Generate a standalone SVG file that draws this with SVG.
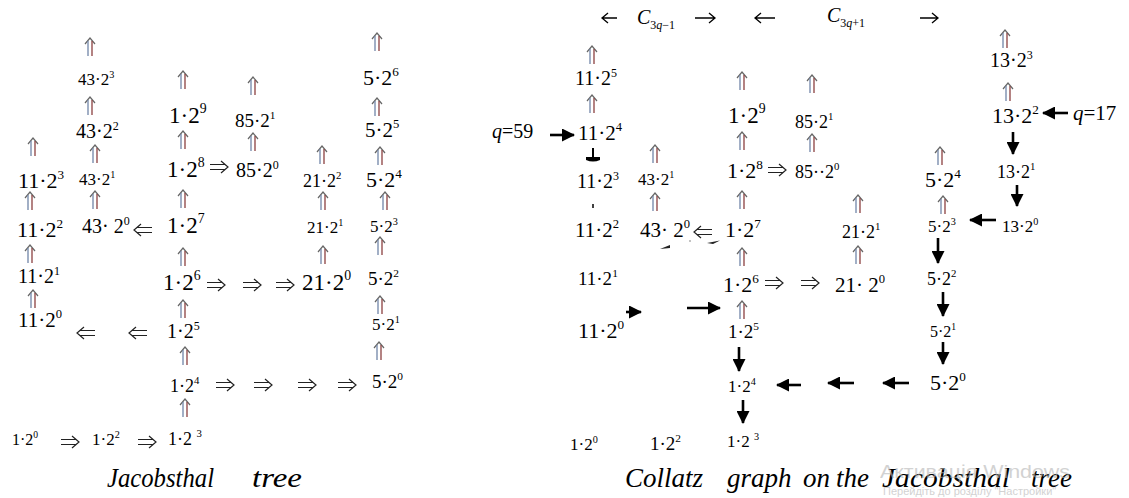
<svg xmlns="http://www.w3.org/2000/svg" xmlns:xlink="http://www.w3.org/1999/xlink" width="1129" height="498" viewBox="0 0 1129 498">
<style>
.n{font-family:"Liberation Serif","Times New Roman",serif;fill:#000}
.i{font-style:italic}
.sup{font-size:0.6em}
.ti{font-family:"Liberation Serif","Times New Roman",serif;font-style:italic;font-size:27px;fill:#000}
.blk{stroke:#000;stroke-width:2.6;fill:none}
.thin{stroke:#000;stroke-width:1.3;fill:none}
.wm{font-family:"Liberation Sans",Arial,sans-serif;fill:#b5b5b5;opacity:0.6}
</style>
<defs>
<g id="dup">
<path d="M-5,6 L0,0 L5,6" fill="none" stroke="#666" stroke-width="1.2"/>
<path d="M-2,3 V18" stroke="#7085a8" stroke-width="1.3"/>
<path d="M2,3 V18" stroke="#8b4040" stroke-width="1.3"/>
</g>
<g id="dright">
<path d="M0,-2.5 H15 M0,2.5 H15" stroke="#222" stroke-width="1.2" fill="none"/>
<path d="M11,-6 L18,0 L11,6" stroke="#222" stroke-width="1.2" fill="none"/>
</g>
<g id="dleft">
<path d="M3,-2.5 H18 M3,2.5 H18" stroke="#222" stroke-width="1.2" fill="none"/>
<path d="M7,-6 L0,0 L7,6" stroke="#222" stroke-width="1.2" fill="none"/>
</g>
<marker id="ah" markerUnits="userSpaceOnUse" markerWidth="13" markerHeight="13" viewBox="0 0 13 13" refX="12" refY="6.5" orient="auto">
<path d="M0,0 L13,6.5 L0,13 z" fill="#000"/>
</marker>
</defs>

<g id="connectors">
<!-- left panel double up arrows -->
<use xlink:href="#dup" x="90" y="38"/>
<use xlink:href="#dup" x="90" y="97"/>
<use xlink:href="#dup" x="95" y="145"/>
<use xlink:href="#dup" x="95" y="191"/>
<use xlink:href="#dup" x="33" y="138"/>
<use xlink:href="#dup" x="30" y="192"/>
<use xlink:href="#dup" x="30" y="245"/>
<use xlink:href="#dup" x="33" y="290"/>
<use xlink:href="#dup" x="183" y="71"/>
<use xlink:href="#dup" x="183" y="131"/>
<use xlink:href="#dup" x="183" y="190"/>
<use xlink:href="#dup" x="183" y="248"/>
<use xlink:href="#dup" x="183" y="300"/>
<use xlink:href="#dup" x="185" y="347"/>
<use xlink:href="#dup" x="185" y="399"/>
<use xlink:href="#dup" x="253" y="77"/>
<use xlink:href="#dup" x="253" y="133"/>
<use xlink:href="#dup" x="322" y="146"/>
<use xlink:href="#dup" x="323" y="192"/>
<use xlink:href="#dup" x="323" y="246"/>
<use xlink:href="#dup" x="377" y="33"/>
<use xlink:href="#dup" x="377" y="98"/>
<use xlink:href="#dup" x="380" y="147"/>
<use xlink:href="#dup" x="385" y="192"/>
<use xlink:href="#dup" x="380" y="237"/>
<use xlink:href="#dup" x="380" y="296"/>
<use xlink:href="#dup" x="379" y="342"/>
<!-- left panel double horizontal arrows -->
<use xlink:href="#dleft" x="77" y="333"/>
<use xlink:href="#dleft" x="129" y="333"/>
<use xlink:href="#dleft" x="134" y="230"/>
<use xlink:href="#dright" x="210" y="167"/>
<use xlink:href="#dright" x="207" y="285"/>
<use xlink:href="#dright" x="243" y="285"/>
<use xlink:href="#dright" x="276" y="285"/>
<use xlink:href="#dright" x="216" y="385"/>
<use xlink:href="#dright" x="254" y="385"/>
<use xlink:href="#dright" x="298" y="385"/>
<use xlink:href="#dright" x="338" y="385"/>
<use xlink:href="#dright" x="61" y="442"/>
<use xlink:href="#dright" x="138" y="442"/>

<!-- right panel double up arrows -->
<use xlink:href="#dup" x="592" y="46"/>
<use xlink:href="#dup" x="592" y="95"/>
<use xlink:href="#dup" x="655" y="145"/>
<use xlink:href="#dup" x="655" y="193"/>
<use xlink:href="#dup" x="742" y="72"/>
<use xlink:href="#dup" x="742" y="132"/>
<use xlink:href="#dup" x="742" y="191"/>
<use xlink:href="#dup" x="742" y="248"/>
<use xlink:href="#dup" x="742" y="301"/>
<use xlink:href="#dup" x="812" y="75"/>
<use xlink:href="#dup" x="812" y="134"/>
<use xlink:href="#dup" x="858" y="195"/>
<use xlink:href="#dup" x="858" y="246"/>
<use xlink:href="#dup" x="940" y="147"/>
<use xlink:href="#dup" x="943" y="196"/>
<use xlink:href="#dup" x="1005" y="30"/>
<use xlink:href="#dup" x="1008" y="83"/>
<use xlink:href="#dright" x="768" y="170"/>
<use xlink:href="#dleft" x="694" y="232"/>
<use xlink:href="#dright" x="765" y="283"/>
<use xlink:href="#dright" x="801" y="283"/>

<!-- top thin arrows -->
<path class="thin" d="M617,18 H603 M608,13 L602,18 L608,23"/>
<path class="thin" d="M695,18 H714 M709,13 L715,18 L709,23"/>
<path class="thin" d="M775,18 H756 M761,13 L755,18 L761,23"/>
<path class="thin" d="M920,18 H937 M932,13 L938,18 L932,23"/>

<!-- black Collatz arrows -->
<line class="blk" x1="550" y1="135" x2="574" y2="135" marker-end="url(#ah)"/>
<path d="M593,148 V157" stroke="#000" stroke-width="2"/>
<path d="M586,157 H600 V160 Q593,163 586,160 Z" fill="#000"/>
<path d="M593,204 V208" stroke="#000" stroke-width="1.5"/>
<line class="blk" x1="626" y1="312" x2="641" y2="312" marker-end="url(#ah)"/>
<line class="blk" x1="687" y1="308" x2="720" y2="308" marker-end="url(#ah)"/>
<path d="M660,249 L670,245 L670,248 Z" fill="#222"/>
<path d="M707,243 L720,240.5 L713,244 Z" fill="#222"/>
<circle cx="690" cy="241" r="0.8" fill="#777"/>
<line class="blk" x1="739" y1="347" x2="739" y2="371" marker-end="url(#ah)"/>
<line class="blk" x1="743" y1="400" x2="743" y2="423" marker-end="url(#ah)"/>
<line class="blk" x1="801" y1="385" x2="777" y2="385" marker-end="url(#ah)"/>
<line class="blk" x1="854" y1="383" x2="828" y2="383" marker-end="url(#ah)"/>
<line class="blk" x1="909" y1="383" x2="883" y2="383" marker-end="url(#ah)"/>
<line class="blk" x1="943" y1="342" x2="943" y2="364" marker-end="url(#ah)"/>
<line class="blk" x1="943" y1="292" x2="943" y2="316" marker-end="url(#ah)"/>
<line class="blk" x1="938" y1="238" x2="938" y2="263" marker-end="url(#ah)"/>
<line class="blk" x1="996" y1="220" x2="970" y2="220" marker-end="url(#ah)"/>
<line class="blk" x1="1017" y1="185" x2="1017" y2="206" marker-end="url(#ah)"/>
<line class="blk" x1="1013" y1="132" x2="1013" y2="154" marker-end="url(#ah)"/>
<line class="blk" x1="1068" y1="113" x2="1043" y2="113" marker-end="url(#ah)"/>
</g>

<!-- LEFT PANEL NODES -->
<g id="L-43-3"><text class="n" x="78" y="85" font-size="17">43·2<tspan class="sup" dy="-0.7em">3</tspan></text></g>
<g id="L-43-2"><text class="n" x="76" y="138" font-size="20">43·2<tspan class="sup" dy="-0.7em">2</tspan></text></g>
<g id="L-43-1"><text class="n" x="79" y="185" font-size="17">43·2<tspan class="sup" dy="-0.7em">1</tspan></text></g>
<g id="L-43-0"><text class="n" x="82" y="233" font-size="20">43· 2<tspan class="sup" dy="-0.7em">0</tspan></text></g>
<g id="L-11-3"><text class="n" x="18" y="188" font-size="22">11·2<tspan class="sup" dy="-0.7em">3</tspan></text></g>
<g id="L-11-2"><text class="n" x="17" y="237" font-size="22">11·2<tspan class="sup" dy="-0.7em">2</tspan></text></g>
<g id="L-11-1"><text class="n" x="18" y="283" font-size="20">11·2<tspan class="sup" dy="-0.7em">1</tspan></text></g>
<g id="L-11-0"><text class="n" x="18" y="327" font-size="21">11·2<tspan class="sup" dy="-0.7em">0</tspan></text></g>
<g id="L-1-9"><text class="n" x="169" y="123" font-size="23">1·2<tspan class="sup" dy="-0.7em">9</tspan></text></g>
<g id="L-1-8"><text class="n" x="167" y="177" font-size="23">1·2<tspan class="sup" dy="-0.7em">8</tspan></text></g>
<g id="L-1-7"><text class="n" x="167" y="233" font-size="23">1·2<tspan class="sup" dy="-0.7em">7</tspan></text></g>
<g id="L-1-6"><text class="n" x="163" y="290" font-size="23">1·2<tspan class="sup" dy="-0.7em">6</tspan></text></g>
<g id="L-1-5"><text class="n" x="167" y="338" font-size="20">1·2<tspan class="sup" dy="-0.7em">5</tspan></text></g>
<g id="L-1-4"><text class="n" x="170" y="392" font-size="18">1·2<tspan class="sup" dy="-0.7em">4</tspan></text></g>
<g id="L-1-3"><text class="n" x="168" y="445" font-size="18">1·2 <tspan class="sup" dy="-0.7em">3</tspan></text></g>
<g id="L-1-2"><text class="n" x="92" y="445" font-size="17">1·2<tspan class="sup" dy="-0.7em">2</tspan></text></g>
<g id="L-1-0"><text class="n" x="12" y="445" font-size="16">1·2<tspan class="sup" dy="-0.7em">0</tspan></text></g>
<g id="L-85-1"><text class="n" x="235" y="127" font-size="19">85·2<tspan class="sup" dy="-0.7em">1</tspan></text></g>
<g id="L-85-0"><text class="n" x="236" y="177" font-size="20">85·2<tspan class="sup" dy="-0.7em">0</tspan></text></g>
<g id="L-21-2"><text class="n" x="303" y="187" font-size="18">21·2<tspan class="sup" dy="-0.7em">2</tspan></text></g>
<g id="L-21-1"><text class="n" x="307" y="233" font-size="17">21·2<tspan class="sup" dy="-0.7em">1</tspan></text></g>
<g id="L-21-0"><text class="n" x="302" y="290" font-size="23">21·2<tspan class="sup" dy="-0.7em">0</tspan></text></g>
<g id="L-5-6"><text class="n" x="363" y="85" font-size="22">5·2<tspan class="sup" dy="-0.7em">6</tspan></text></g>
<g id="L-5-5"><text class="n" x="365" y="137" font-size="21">5·2<tspan class="sup" dy="-0.7em">5</tspan></text></g>
<g id="L-5-4"><text class="n" x="366" y="187" font-size="22">5·2<tspan class="sup" dy="-0.7em">4</tspan></text></g>
<g id="L-5-3"><text class="n" x="370" y="232" font-size="17">5·2<tspan class="sup" dy="-0.7em">3</tspan></text></g>
<g id="L-5-2"><text class="n" x="368" y="285" font-size="19">5·2<tspan class="sup" dy="-0.7em">2</tspan></text></g>
<g id="L-5-1"><text class="n" x="372" y="330" font-size="17">5·2<tspan class="sup" dy="-0.7em">1</tspan></text></g>
<g id="L-5-0"><text class="n" x="372" y="388" font-size="19">5·2<tspan class="sup" dy="-0.7em">0</tspan></text></g>
<g id="L-title"><text class="ti" x="107" y="487"><tspan textLength="107" lengthAdjust="spacingAndGlyphs">Jacobsthal</tspan> <tspan x="252" textLength="50" lengthAdjust="spacingAndGlyphs">tree</tspan></text></g>

<!-- RIGHT PANEL -->
<g id="C-left"><text class="n i" x="637" y="24" font-size="20">C<tspan font-size="12" dy="5" font-style="normal">3<tspan font-style="italic">q</tspan>−1</tspan></text></g>
<g id="C-right"><text class="n i" x="827" y="22" font-size="20">C<tspan font-size="12" dy="5" font-style="normal">3<tspan font-style="italic">q</tspan>+1</tspan></text></g>
<g id="q59"><text class="n" x="492" y="138" font-size="20"><tspan font-style="italic">q</tspan>=59</text></g>
<g id="q17"><text class="n" x="1073" y="120" font-size="21"><tspan font-style="italic">q</tspan>=17</text></g>
<g id="R-11-5"><text class="n" x="575" y="85" font-size="20">11·2<tspan class="sup" dy="-0.7em">5</tspan></text></g>
<g id="R-11-4"><text class="n" x="578" y="140" font-size="21">11·2<tspan class="sup" dy="-0.7em">4</tspan></text></g>
<g id="R-11-3"><text class="n" x="577" y="188" font-size="20">11·2<tspan class="sup" dy="-0.7em">3</tspan></text></g>
<g id="R-11-2"><text class="n" x="575" y="237" font-size="21">11·2<tspan class="sup" dy="-0.7em">2</tspan></text></g>
<g id="R-11-1"><text class="n" x="578" y="285" font-size="19">11·2<tspan class="sup" dy="-0.7em">1</tspan></text></g>
<g id="R-11-0"><text class="n" x="578" y="338" font-size="22">11·2<tspan class="sup" dy="-0.7em">0</tspan></text></g>
<g id="R-43-1"><text class="n" x="638" y="185" font-size="17">43·2<tspan class="sup" dy="-0.7em">1</tspan></text></g>
<g id="R-43-0"><text class="n" x="640" y="237" font-size="21">43· 2<tspan class="sup" dy="-0.7em">0</tspan></text></g>
<g id="R-1-9"><text class="n" x="728" y="123" font-size="23">1·2<tspan class="sup" dy="-0.7em">9</tspan></text></g>
<g id="R-1-8"><text class="n" x="727" y="178" font-size="22">1·2<tspan class="sup" dy="-0.7em">8</tspan></text></g>
<g id="R-1-7"><text class="n" x="725" y="237" font-size="22">1·2<tspan class="sup" dy="-0.7em">7</tspan></text></g>
<g id="R-1-6"><text class="n" x="723" y="292" font-size="22">1·2<tspan class="sup" dy="-0.7em">6</tspan></text></g>
<g id="R-1-5"><text class="n" x="728" y="338" font-size="19">1·2<tspan class="sup" dy="-0.7em">5</tspan></text></g>
<g id="R-1-4"><text class="n" x="728" y="392" font-size="17">1·2<tspan class="sup" dy="-0.7em">4</tspan></text></g>
<g id="R-1-3"><text class="n" x="727" y="447" font-size="17">1·2 <tspan class="sup" dy="-0.7em">3</tspan></text></g>
<g id="R-1-2"><text class="n" x="650" y="450" font-size="19">1·2<tspan class="sup" dy="-0.7em">2</tspan></text></g>
<g id="R-1-0"><text class="n" x="570" y="450" font-size="17">1·2<tspan class="sup" dy="-0.7em">0</tspan></text></g>
<g id="R-85-1"><text class="n" x="795" y="128" font-size="18">85·2<tspan class="sup" dy="-0.7em">1</tspan></text></g>
<g id="R-85-0"><text class="n" x="795" y="178" font-size="18">85··2<tspan class="sup" dy="-0.7em">0</tspan></text></g>
<g id="R-21-1"><text class="n" x="842" y="238" font-size="18">21·2<tspan class="sup" dy="-0.7em">1</tspan></text></g>
<g id="R-21-0"><text class="n" x="835" y="292" font-size="21">21· 2<tspan class="sup" dy="-0.7em">0</tspan></text></g>
<g id="R-5-4"><text class="n" x="925" y="187" font-size="22">5·2<tspan class="sup" dy="-0.7em">4</tspan></text></g>
<g id="R-5-3"><text class="n" x="928" y="232" font-size="17">5·2<tspan class="sup" dy="-0.7em">3</tspan></text></g>
<g id="R-5-2"><text class="n" x="927" y="285" font-size="18">5·2<tspan class="sup" dy="-0.7em">2</tspan></text></g>
<g id="R-5-1"><text class="n" x="930" y="337" font-size="16">5·2<tspan class="sup" dy="-0.7em">1</tspan></text></g>
<g id="R-5-0"><text class="n" x="930" y="390" font-size="22">5·2<tspan class="sup" dy="-0.7em">0</tspan></text></g>
<g id="R-13-3"><text class="n" x="990" y="67" font-size="20">13·2<tspan class="sup" dy="-0.7em">3</tspan></text></g>
<g id="R-13-2"><text class="n" x="992" y="123" font-size="22">13·2<tspan class="sup" dy="-0.7em">2</tspan></text></g>
<g id="R-13-1"><text class="n" x="997" y="178" font-size="18">13·2<tspan class="sup" dy="-0.7em">1</tspan></text></g>
<g id="R-13-0"><text class="n" x="1002" y="232" font-size="17">13·2<tspan class="sup" dy="-0.7em">0</tspan></text></g>
<g id="R-title"><text class="ti" x="625" y="487">Collatz <tspan x="727">graph</tspan> <tspan x="803">on</tspan> <tspan x="836">the</tspan> <tspan x="882" textLength="128" lengthAdjust="spacingAndGlyphs">Jacobsthal</tspan> <tspan x="1031">tree</tspan></text></g>

<g id="watermark">
<text class="wm" x="880" y="478" font-size="19" textLength="190" lengthAdjust="spacingAndGlyphs">Активація Windows</text>
<text class="wm" x="883" y="495" font-size="11">Перейдіть до розділу "Настройки"</text>
</g>
</svg>
